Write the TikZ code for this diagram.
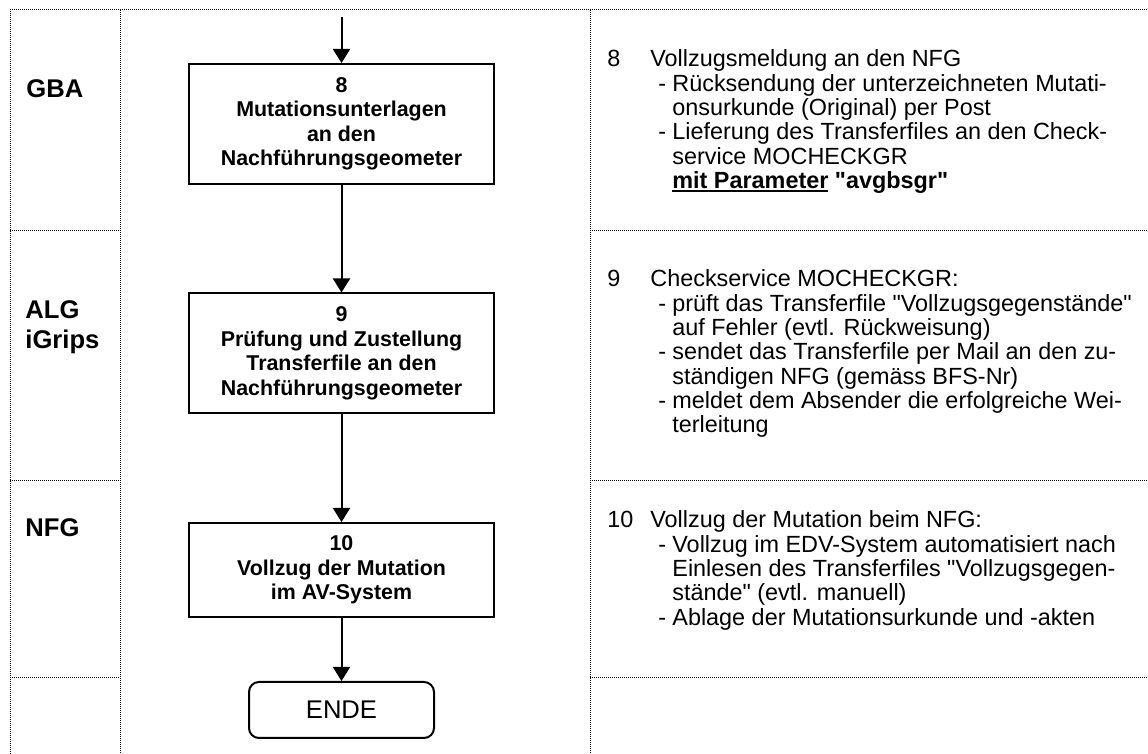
\documentclass[tikz,border=0pt]{standalone}
\usepackage{fontspec}
\setmainfont{Liberation Sans}
\usetikzlibrary{arrows.meta}

\tikzstyle{krok}=[draw, line width=1pt, align=center, minimum width=152.5pt, inner sep=0pt, font=\bfseries\fontsize{10.7}{12.25}\selectfont]
\tikzstyle{konec}=[draw, line width=1pt, rounded corners=5pt, minimum width=92.5pt, minimum height=28pt, font=\fontsize{12.8}{15}\selectfont]
\tikzstyle{sipka}=[line width=1pt, -{Triangle[length=7pt,width=8.5pt]}]
\tikzstyle{ramec}=[line width=0.5pt, dash pattern=on 0.5pt off 0.5pt]
\tikzstyle{role}=[anchor=west, inner sep=0pt, align=left, font=\bfseries\fontsize{12.8}{15}\selectfont]
\tikzstyle{popis}=[anchor=base west, inner sep=0pt, font=\fontsize{11.7}{12.15}\selectfont]

\newcommand{\polozky}[1]{\begin{tabular}[t]{@{}p{21.5pt}@{}p{4pt}@{}p{7pt}@{}l@{}}#1\end{tabular}}
\newcommand{\uvoz}{\textquotedbl}
\newcommand{\podtrh}[1]{\leavevmode\setbox0\hbox{#1}\rlap{\rule[-1.9pt]{\wd0}{0.9pt}}\box0\relax}

\begin{document}
\begin{tikzpicture}[x=0.5pt, y=-0.5pt]
            \useasboundingbox (0,0) rectangle (1148,754);

            % Ramec a pruhy
            \draw[ramec] (10,754) -- (10,10) -- (1148,10);
            \draw[ramec] (120,10) -- (120,754);
            \draw[ramec] (590,10) -- (590,754);
            \foreach \y in {231,481,678} {
                \draw[ramec] (10,\y) -- (120,\y);
                \draw[ramec] (590,\y) -- (1148,\y);
            }

            % Role
            \node[role] (gba) at (26,89) {GBA};
            \node[role] (alg) at (25,327) {ALG\\iGrips};
            \node[role] (nfg) at (25,528) {NFG};

            % Kroky
            \coordinate (start) at (341.5,17);
            \node[krok, minimum height=60pt] (k8) at (341.5,124) {8\\Mutationsunterlagen\\an den\\Nachführungsgeometer};
            \node[krok, minimum height=60pt] (k9) at (341.5,353.5) {9\\Prüfung und Zustellung\\Transferfile an den\\Nachführungsgeometer};
            \node[krok, minimum height=47pt] (k10) at (341.5,570) {10\\Vollzug der Mutation\\im AV-System};
            \node[konec] (ende) at (341.5,710) {ENDE};

            % Sipky
            \draw[sipka] (start) -- (k8);
            \draw[sipka] (k8) -- (k9);
            \draw[sipka] (k9) -- (k10);
            \draw[sipka] (k10) -- (ende);

            % Popisy
            \node[popis] (p8) at (607,67) {\polozky{
                8 & \multicolumn{3}{@{}l@{}}{Vollzugsmeldung an den NFG}\\
                & & - & Rücksendung der unterzeichneten Mutati-\\
                & & & onsurkunde (Original) per Post\\
                & & - & Lieferung des Transferfiles an den Check-\\
                & & & service MOCHECKGR\\
                & & & \textbf{\podtrh{mit Parameter} \uvoz avgbsgr\uvoz}}};
            \node[popis] (p9) at (607,287) {\polozky{
                9 & \multicolumn{3}{@{}l@{}}{Checkservice MOCHECKGR:}\\
                & & - & prüft das Transferfile \uvoz Vollzugsgegenstände\uvoz\\
                & & & auf Fehler (evtl. Rückweisung)\\
                & & - & sendet das Transferfile per Mail an den zu-\\
                & & & ständigen NFG (gemäss BFS-Nr)\\
                & & - & meldet dem Absender die erfolgreiche Wei-\\
                & & & terleitung}};
            \node[popis] (p10) at (607,528) {\polozky{
                10 & \multicolumn{3}{@{}l@{}}{Vollzug der Mutation beim NFG:}\\
                & & - & Vollzug im EDV-System automatisiert nach\\
                & & & Einlesen des Transferfiles \uvoz Vollzugsgegen-\\
                & & & stände\uvoz{} (evtl. manuell)\\
                & & - & Ablage der Mutationsurkunde und -akten}};
        \end{tikzpicture}
\end{document}
